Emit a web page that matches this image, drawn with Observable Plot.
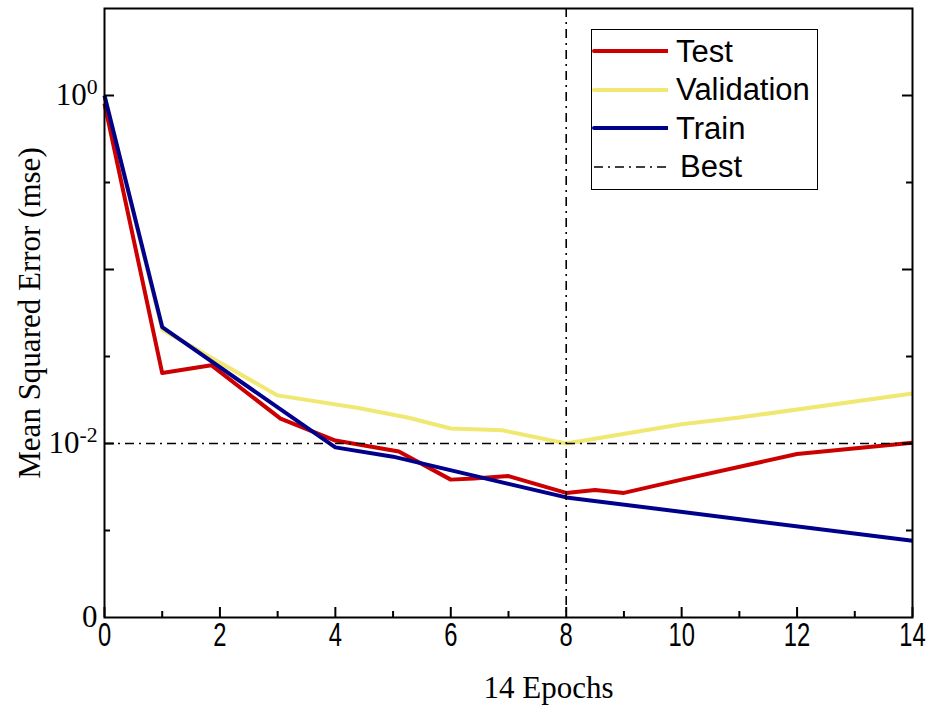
<!DOCTYPE html>
<html>
<head>
<meta charset="utf-8">
<script src="https://cdn.jsdelivr.net/npm/d3@7"></script>
<script src="https://cdn.jsdelivr.net/npm/@observablehq/plot@0.6"></script>
<style>
  html, body { margin: 0; padding: 0; background: #fff; }
  #wrap { position: relative; width: 932px; height: 708px; }
  #legend {
    position: absolute; left: 591px; top: 29px; width: 225px; height: 159px;
    border: 1px solid #000; background: #fff;
    font-family: "Liberation Sans", Arial, sans-serif; font-size: 31px; color: #000;
  }
  .row { position: absolute; left: 0; height: 38px; display: flex; align-items: center; }
  .row svg { display: block; }
  .row span { margin-left: 8px; line-height: 1; }
</style>
</head>
<body>
<div id="wrap"></div>
<script>
// ---- data ----
const seriesNames = ["Test", "Validation", "Train"];
const seriesColors = ["#cc0000", "#f0e872", "#00008c"];

const testEpoch = [0, 1, 1.85, 3.05, 4, 5.1, 6, 6.4, 7, 8, 8.5, 9, 10, 12, 14];
const testMse   = [0.9, 0.0254, 0.0282, 0.0139, 0.0104, 0.0090, 0.0062, 0.0063, 0.0065, 0.0052, 0.0054, 0.0052, 0.0062, 0.0087, 0.0101];

const validEpoch = [0, 1, 3, 4.4, 5.25, 6, 6.9, 8, 10, 11, 14];
const validMse   = [1.0, 0.045, 0.0189, 0.0160, 0.0141, 0.0122, 0.0119, 0.0100, 0.0129, 0.0141, 0.0194];

const trainEpoch = [0, 1, 4, 5, 8, 14];
const trainMse   = [1.0, 0.0467, 0.0095, 0.0084, 0.0049, 0.00276];

const bestEpoch = 8;
const bestMse = 0.01;

const xMajorTicks = [0, 2, 4, 6, 8, 10, 12, 14];
const xMinorTicks = [1, 3, 5, 7, 9, 11, 13];
const yMajorTicks = [1, 0.1, 0.01];
const yMinorTicks = [Math.pow(10, -0.5), Math.pow(10, -1.5), Math.pow(10, -2.5)];
const yLabelValues = [1, 0.01, 0.001];
const yLabelTexts  = ["10^0", "10^-2", "0"];

const xTitle = "14 Epochs";
const yTitle = "Mean Squared Error (mse)";

// ---- build table ----
const rows = [];
testEpoch.forEach((e, i) => rows.push({series: "Test", epoch: e, mse: testMse[i]}));
validEpoch.forEach((e, i) => rows.push({series: "Validation", epoch: e, mse: validMse[i]}));
trainEpoch.forEach((e, i) => rows.push({series: "Train", epoch: e, mse: trainMse[i]}));
const colorOf = Object.fromEntries(seriesNames.map((n, i) => [n, seriesColors[i]]));
const labelMap = new Map(yLabelValues.map((v, i) => [v, yLabelTexts[i]]));

const W = 932, H = 708, mL = 104, mR = 20, mT = 8, mB = 91;
const pw = W - mL - mR, ph = H - mT - mB;
const dash = "9,5,2,5";
const serif = "'Liberation Serif', 'Times New Roman', serif";

const plot = Plot.plot({
  width: W, height: H,
  marginLeft: mL, marginRight: mR, marginTop: mT, marginBottom: mB,
  style: {background: "#fff"},
  x: {domain: [0, 14]},
  y: {type: "log", domain: [1e-3, Math.pow(10, 0.5)]},
  marks: [
    ...["Validation", "Test", "Train"].map(s =>
      Plot.line(rows.filter(d => d.series === s), {
        x: "epoch", y: "mse", stroke: colorOf[s], strokeWidth: 4,
        strokeLinejoin: "round", strokeLinecap: "butt"
      })
    ),
    Plot.ruleY([bestMse], {y: d => d, stroke: "#000", strokeWidth: 1.6, strokeDasharray: dash}),
    Plot.ruleX([bestEpoch], {x: d => d, stroke: "#000", strokeWidth: 1.6, strokeDasharray: dash}),
    // inward ticks
    Plot.ruleX(xMajorTicks, {x: d => d, insetTop: ph - 10, stroke: "#000", strokeWidth: 2}),
    Plot.ruleX(xMinorTicks, {x: d => d, insetTop: ph - 6, stroke: "#000", strokeWidth: 2}),
    Plot.ruleY(yMajorTicks, {y: d => d, insetRight: pw - 10, stroke: "#000", strokeWidth: 2}),
    Plot.ruleY(yMinorTicks, {y: d => d, insetRight: pw - 6, stroke: "#000", strokeWidth: 2}),
    Plot.ruleY(yMajorTicks, {y: d => d, insetLeft: pw - 10, stroke: "#000", strokeWidth: 2}),
    Plot.ruleY(yMinorTicks, {y: d => d, insetLeft: pw - 6, stroke: "#000", strokeWidth: 2}),
    Plot.frame({stroke: "#000", strokeWidth: 2}),
    Plot.axisX({ticks: xMajorTicks, tickSize: 0, tickPadding: 5, tickFormat: d => String(d),
      fontSize: 33, fontFamily: "'Liberation Sans', Arial, sans-serif", label: null}),
    Plot.axisY({ticks: yLabelValues, tickSize: 0, tickPadding: 7, tickFormat: d => labelMap.get(d),
      fontSize: 31, fontFamily: serif, label: null}),
    Plot.text([xTitle], {text: d => d, frameAnchor: "bottom", dy: 71, dx: 40, lineAnchor: "middle",
      fontSize: 31, fontFamily: serif, fill: "#000"}),
    Plot.text([yTitle], {text: d => d, frameAnchor: "left", dx: -74, rotate: -90, lineAnchor: "middle",
      textAnchor: "middle", fontSize: 31, fontFamily: serif, fill: "#000"})
  ]
});

// narrow x tick labels (condensed look of the reference)
d3.select(plot).selectAll('g[aria-label="x-axis tick label"] text').each(function() {
  const tr = this.getAttribute("transform") || "";
  this.setAttribute("transform", tr + " scale(0.72,1)");
});

// superscripts on y labels
d3.select(plot).selectAll('g[aria-label="y-axis tick label"] text').each(function() {
  const t = this.textContent;
  const m = t.match(/^(\d+)\^(.+)$/);
  if (!m) return;
  const sel = d3.select(this);
  sel.text(null);
  sel.append("tspan").text(m[1]);
  sel.append("tspan").attr("dy", "-0.55em").attr("font-size", "0.7em").text(m[2]);
});

const wrap = document.getElementById("wrap");
wrap.appendChild(plot);

// legend (HTML overlay)
const legend = document.createElement("div");
legend.id = "legend";
const legendItems = seriesNames.map((n, i) => ({name: n, color: seriesColors[i], dash: null}))
  .concat([{name: "Best", color: "#000", dash: dash}]);
legendItems.forEach((it, i) => {
  const row = document.createElement("div");
  row.className = "row";
  row.style.top = (2 + i * 38.5) + "px";
  const sw = d3.create("svg").attr("width", 76).attr("height", 10);
  sw.append("line").attr("x1", 2).attr("x2", 76).attr("y1", 5).attr("y2", 5)
    .attr("stroke", it.color).attr("stroke-width", it.dash ? 1.6 : 4)
    .attr("stroke-dasharray", it.dash).attr("stroke-linecap", it.dash ? "butt" : "round");
  row.appendChild(sw.node());
  const sp = document.createElement("span");
  sp.textContent = it.name;
  if (it.dash) sp.style.marginLeft = "12px";
  row.appendChild(sp);
  legend.appendChild(row);
});
wrap.appendChild(legend);
</script>
</body>
</html>
